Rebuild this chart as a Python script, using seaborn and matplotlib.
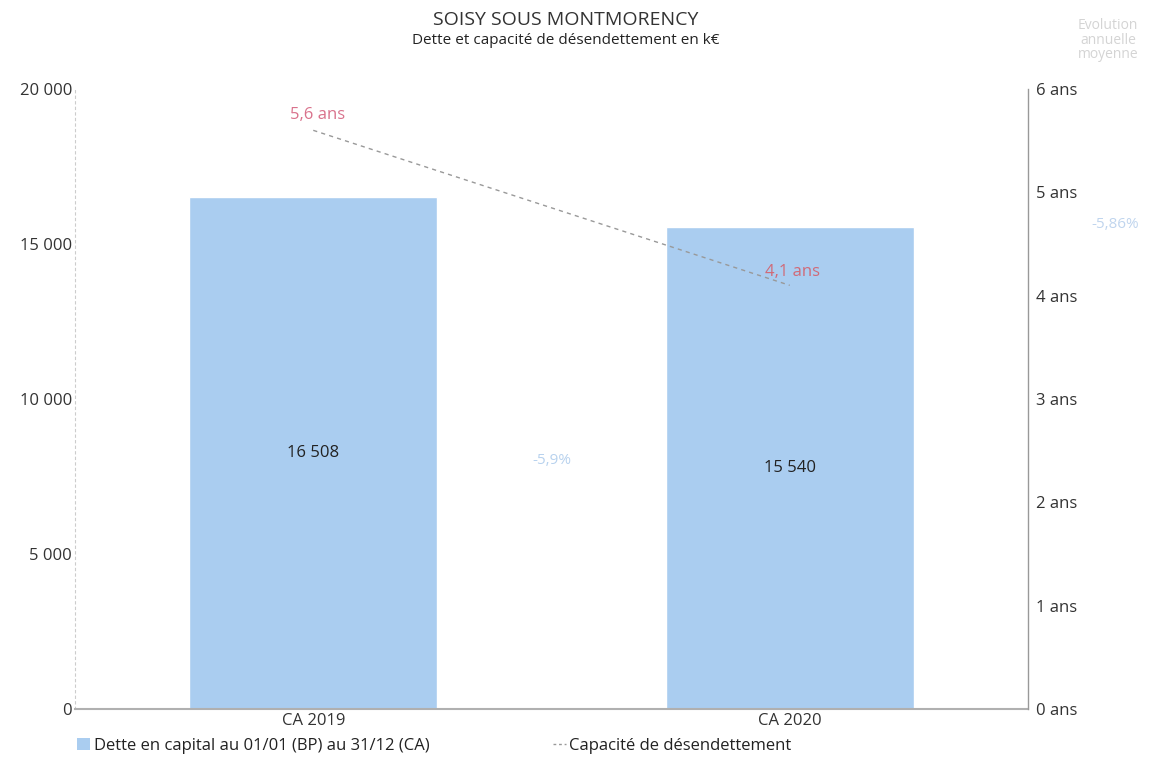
import numpy as np
import pandas as pd
import matplotlib
matplotlib.use("Agg")
import matplotlib.pyplot as plt
import seaborn as sns
from matplotlib.patches import Patch
from matplotlib.lines import Line2D

# data
periodes = ["CA 2019", "CA 2020"]
dette = [16508, 15540]            # k€
capacite = [5.6, 4.1]             # ans
evol_labels = ["-5,9%"]
evol_moyenne = "-5,86%"

sns.set_theme(style="white")
plt.rcParams['font.family'] = ['Open Sans', 'DejaVu Sans']

df = pd.DataFrame({"periode": periodes, "dette": dette, "capacite": capacite})

fig = plt.figure(figsize=(11.49, 7.59), dpi=100)
ax = fig.add_axes([75/1149, 1 - 709/759, 953/1149, 620/759])

bar_col = "#aacdf0"
sns.barplot(data=df, x="periode", y="dette", color=bar_col, width=0.52,
            saturation=1, ax=ax)
ax.set_xlim(-0.5, 1.5)
ax.set_ylim(0, 20000)
ax.set_yticks([0, 5000, 10000, 15000, 20000])
ax.set_yticklabels(["0", "5 000", "10 000", "15 000", "20 000"])
ax.set_xlabel("")
ax.set_ylabel("")
ax.tick_params(axis="y", labelsize=12, colors="#333333", pad=2, length=0)
ax.tick_params(axis="x", labelsize=12, colors="#333333", pad=3, length=0)

for i, v in enumerate(dette):
    ax.text(i, v / 2, f"{v:,}".replace(",", " "), ha="center", va="center",
            fontsize=12, color="#222222")

ax.text(0.5, 8000, evol_labels[0], ha="center", va="center", fontsize=11,
        color="#b8d2ee")

for side in ["top", "right"]:
    ax.spines[side].set_visible(False)
ax.spines["left"].set_color("#cccccc")
ax.spines["left"].set_linestyle((0, (2, 3)))
ax.spines["left"].set_linewidth(0.8)
ax.spines["bottom"].set_color("#b0b0b0")
ax.spines["bottom"].set_linewidth(1.5)

ax2 = ax.twinx()
sns.lineplot(x=[0, 1], y=capacite, ax=ax2, color="#999999", lw=1,
             linestyle=(0, (3, 3)))
ax2.set_xlim(-0.5, 1.5)
ax2.set_ylim(0, 6)
ax2.set_yticks(range(7))
ax2.set_yticklabels([f"{i} ans" for i in range(7)])
ax2.tick_params(axis="y", labelsize=12, colors="#333333", pad=6, length=0)
ax2.set_ylabel("")
for side in ["top", "left", "bottom"]:
    ax2.spines[side].set_visible(False)
ax2.spines["right"].set_color("#999999")
ax2.spines["right"].set_linewidth(1)

ax2.text(0.01, capacite[0] + 0.07, "5,6 ans", ha="center", va="bottom",
         fontsize=12, color="#d9728c")
ax2.text(1.005, capacite[1] + 0.13, "4,1 ans", ha="center", va="center",
         fontsize=12, color="#d06a78")

fig.text(0.4925, 1 - 20/759, "SOISY SOUS MONTMORENCY", ha="center", va="center",
         fontsize=14, color="#333333")
fig.text(0.4925, 1 - 41/759, "Dette et capacité de désendettement en k€",
         ha="center", va="center", fontsize=11, color="#222222")
fig.text(1108/1149, 1 - 40/759, "Evolution\nannuelle\nmoyenne", ha="center",
         va="center", fontsize=10, color="#d4d4d4", linespacing=0.95)
fig.text(1115/1149, 1 - 225/759, evol_moyenne, ha="center", va="center",
         fontsize=11, color="#c0d5ee")

handles = [Patch(facecolor=bar_col, edgecolor="none"),
           Line2D([0], [0], color="#999999", lw=1, linestyle=(0, (2, 2)))]
labels = ["Dette en capital au 01/01 (BP) au 31/12 (CA)", "Capacité de désendettement"]
fig.legend(handles, labels, loc="center left", bbox_to_anchor=(62/1149, 1 - 746/759),
           ncol=2, frameon=False, fontsize=12, handlelength=0.8, handletextpad=0.2,
           columnspacing=7.4, labelcolor="#222222")

fig.savefig("out.png", dpi=100)
